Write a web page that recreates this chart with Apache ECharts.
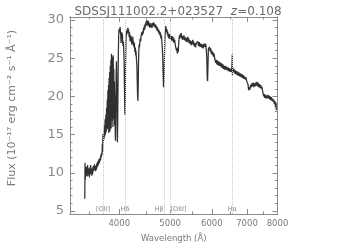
<!DOCTYPE html>
<html><head><meta charset="utf-8">
<script src="https://cdn.jsdelivr.net/npm/echarts@6/dist/echarts.min.js"></script>
<style>html,body{margin:0;padding:0;background:#fff}#c{width:347px;height:248px}</style>
</head><body><div id="c"></div>
<script>
// Rest-frame wavelength (Å)
const wavelength = [
3440,3443,3447,3452,3457,3462,3467,3472,3477,3483,3488,3494,3500,3506,3511,3517,3523,3529,3535,3541,3547,3553,3559,3565,3571,3577,3583,3589,3595,3601,3607,3613,3619,3625,3631,3637,3643,3649,3655,3661,3667,3673,3679,3685,3691,3697,3703,3709,3715,3720,3725,3730,3736,3742,3748,3754,3760,3766,3772,3778,3784,3790,3796,3801,3806,3811,3816,3821,3826,3831,3836,3841,3846,3851,3856,3861,3866,3871,3876,3881,3886,3891,3896,3901,3906,3911,3916,3921,3926,3931,3935,3940,3946,3952,3958,3963,3968,3973,3978,3984,3990,3996,4002,4008,4014,4020,4026,4032,4038,4044,4050,4056,4062,4068,4074,4080,4086,4092,4097,4102,4107,4112,4118,4124,4130,4136,4142,4148,4154,4160,4166,4172,4178,4184,4190,4196,4202,4208,4214,4220,4226,4232,4238,4244,4250,4256,4262,4268,4274,4280,4286,4292,4298,4304,4310,4316,4322,4328,4334,4340,4346,4352,4358,4364,4370,4378,4386,4394,4402,4410,4418,4426,4434,4442,4450,4458,4466,4474,4482,4490,4498,4506,4514,4522,4530,4538,4546,4554,4562,4570,4578,4586,4594,4602,4610,4620,4630,4640,4650,4660,4670,4680,4690,4700,4710,4720,4730,4740,4750,4760,4770,4780,4790,4800,4810,4820,4830,4840,4848,4856,4862,4868,4875,4882,4890,4898,4906,4914,4922,4930,4938,4946,4954,4962,4970,4978,4986,4994,5002,5010,5018,5026,5034,5042,5050,5060,5070,5080,5090,5100,5110,5120,5130,5140,5150,5160,5170,5180,5190,5200,5210,5220,5230,5240,5250,5260,5270,5280,5290,5300,5310,5320,5330,5340,5350,5360,5370,5380,5390,5400,5410,5420,5430,5440,5450,5460,5470,5480,5490,5500,5510,5520,5530,5540,5550,5560,5570,5580,5590,5600,5620,5640,5660,5680,5700,5720,5740,5760,5780,5800,5820,5840,5855,5868,5880,5890,5900,5910,5925,5940,5955,5970,5985,6000,6015,6030,6045,6060,6075,6090,6105,6120,6135,6150,6165,6180,6195,6210,6225,6240,6255,6270,6285,6300,6315,6330,6345,6360,6380,6400,6420,6440,6460,6480,6500,6520,6540,6555,6563,6568,6575,6590,6610,6630,6650,6670,6690,6710,6730,6750,6770,6790,6810,6830,6850,6870,6890,6910,6930,6950,6970,6990,7010,7030,7050,7070,7090,7110,7130,7150,7170,7190,7210,7230,7250,7270,7290,7310,7330,7350,7370,7390,7410,7430,7450,7470,7490,7510,7530,7550,7570,7590,7610,7630,7650,7670,7690,7710,7730,7750,7770,7790,7810,7830,7850,7870,7890,7910,7930,7945,7960
];
// Flux (1e-17 erg cm^-2 s^-1 Å^-1)
const flux = [
6.6,11.3,9.1,10.2,9.6,10.8,9.7,10.5,9.5,11.0,10.0,10.6,9.6,10.3,9.4,10.7,9.8,11.0,10.1,10.6,9.6,10.2,9.8,10.8,10.2,10.9,10.3,11.1,10.4,10.9,10.2,10.8,10.4,11.2,10.7,11.4,10.9,11.6,11.1,11.8,11.3,11.5,12.0,11.6,12.4,12.0,12.6,12.3,13.8,12.8,15.0,14.0,15.2,14.4,16.2,14.8,17.0,15.0,17.6,15.3,18.5,15.8,19.6,16.0,20.8,15.6,21.5,15.2,22.4,16.0,23.2,15.4,24.0,16.6,24.8,15.8,25.6,16.8,25.2,17.6,24.2,16.0,25.4,18.2,23.6,17.0,22.0,16.2,20.2,15.0,14.2,18.5,22.8,24.6,21.2,17.0,14.0,16.5,21.0,25.5,28.0,28.8,29.0,28.4,29.1,28.6,28.0,27.0,27.8,28.4,27.6,28.2,27.0,26.6,27.2,26.0,24.5,21.5,18.8,17.6,20.0,24.0,26.8,28.0,28.6,28.1,28.8,28.3,29.0,28.4,28.8,28.2,27.8,28.4,27.6,27.2,28.0,27.4,27.9,27.3,26.8,27.5,27.0,27.8,27.2,26.6,27.2,26.4,27.0,26.2,25.8,26.4,25.4,26.0,25.2,24.6,24.0,22.0,20.2,19.4,21.0,24.2,26.0,26.8,26.4,27.2,27.6,27.2,28.0,27.8,28.4,28.0,28.6,28.2,29.0,28.6,29.3,28.8,29.5,29.2,29.8,29.3,30.0,29.4,29.8,29.2,29.9,29.3,29.6,29.0,29.5,29.1,29.6,29.0,29.4,29.0,29.6,29.2,29.7,29.2,29.5,29.0,29.4,28.9,29.2,28.6,29.0,28.5,28.8,28.2,28.6,28.0,28.4,27.6,28.0,27.2,26.4,25.0,22.8,21.2,21.0,22.6,25.0,27.0,28.2,28.6,29.2,29.0,28.4,28.8,28.1,28.5,27.8,28.2,27.6,28.2,27.6,28.1,27.5,28.0,27.4,27.8,27.3,27.9,27.4,27.8,27.1,27.6,27.0,27.4,26.8,26.6,26.9,26.0,26.3,25.6,26.4,25.8,27.0,27.6,28.0,27.6,28.2,27.8,28.3,27.6,27.9,27.4,27.9,27.5,28.0,27.4,27.8,27.3,27.7,27.2,27.6,27.1,27.5,27.8,27.2,27.6,27.0,27.4,26.9,27.3,26.8,27.2,26.7,27.1,26.9,27.4,26.8,27.2,26.6,27.0,26.5,27.0,26.4,26.9,26.8,27.2,26.6,27.1,26.5,26.9,26.4,26.8,26.3,26.9,26.5,26.9,26.2,25.2,22.4,22.0,24.0,26.2,26.0,26.5,25.9,26.3,25.6,26.0,25.4,25.8,25.2,25.6,25.0,25.0,24.4,24.8,24.2,24.7,24.1,24.6,24.0,24.5,24.0,24.4,23.8,24.3,23.7,24.2,23.6,24.0,23.5,24.0,23.5,23.9,23.4,23.8,23.3,23.7,23.2,23.6,23.2,24.2,25.5,22.8,23.8,23.2,23.6,23.0,23.4,22.9,23.3,22.8,23.2,22.7,23.1,22.6,23.0,22.5,22.9,22.4,22.8,22.3,22.6,22.2,22.5,22.0,22.2,21.6,20.8,21.2,20.9,21.5,21.2,21.7,21.3,21.8,21.2,21.7,21.3,21.8,21.4,21.9,21.3,21.8,21.2,21.6,21.1,21.5,21.0,21.3,20.8,20.6,20.0,20.3,19.8,20.2,19.7,20.1,19.8,20.2,19.7,20.1,19.6,20.0,19.5,19.9,19.4,19.7,19.3,19.6,19.0,19.4,18.6,19.2,18.2
];
const lineNames = ['[OII]', 'Hδ', 'Hβ', '[OIII]', 'Hα'];
const lineWavelengths = [3727, 4102, 4861, 5007, 6563];
const lineLabelAlign = ['center', 'center', 'right', 'left', 'center'];
const xTickValues = [4000, 5000, 6000, 7000, 8000];
const xMinorTickValues = [3500, 4500, 5500, 6500, 7500];
const yTickValues = [5, 10, 15, 20, 25, 30];
const yMinorTickValues = [];
for (let v = 5; v <= 30; v++) if (v % 5 !== 0) yMinorTickValues.push(v);

const XMIN = 3224, XMAX = 8000, YMIN = 4.6, YMAX = 30.4;
const AX = '#8a8a8a';
const chart = echarts.init(document.getElementById('c'), null, {renderer: 'canvas'});

function xAxisDef(pos, ticks, len, labels) {
  return {
    type: 'log', logBase: 10, min: XMIN, max: XMAX, position: pos,
    axisLine: {show: true, onZero: false, lineStyle: {color: AX, width: 1}},
    axisTick: {show: true, inside: true, length: len, customValues: ticks, lineStyle: {color: AX}},
    axisLabel: labels ? {show: true, customValues: ticks, color: '#7a7a7a', fontSize: 8.5, fontFamily: 'DejaVu Sans', margin: 5,
      formatter: v => String(Math.round(v))} : {show: false},
    splitLine: {show: false}, minorTick: {show: false}
  };
}
function yAxisDef(pos, ticks, len, labels) {
  return {
    type: 'value', min: YMIN, max: YMAX, position: pos,
    axisLine: {show: true, onZero: false, lineStyle: {color: AX, width: 1}},
    axisTick: {show: true, inside: true, length: len, customValues: ticks, lineStyle: {color: AX}},
    axisLabel: labels ? {show: true, customValues: ticks, color: '#8a8a8a', fontSize: 13, fontFamily: 'DejaVu Sans', margin: 6} : {show: false},
    splitLine: {show: false}
  };
}

const xa = [
  xAxisDef('bottom', xTickValues, 5, true),
  xAxisDef('top', xTickValues, 5, false),
  xAxisDef('bottom', xMinorTickValues, 2.5, false),
  xAxisDef('top', xMinorTickValues, 2.5, false)
];
xa[0].name = 'Wavelength (Å)';
xa[0].nameLocation = 'middle';
xa[0].nameGap = 20;
xa[0].nameTextStyle = {color: '#7a7a7a', fontSize: 8.5, fontFamily: 'DejaVu Sans'};

const ya = [
  yAxisDef('left', yTickValues, 5, true),
  yAxisDef('right', yTickValues, 5, false),
  yAxisDef('left', yMinorTickValues, 2.5, false),
  yAxisDef('right', yMinorTickValues, 2.5, false)
];

const specData = wavelength.map((w, i) => [w, flux[i]]);
const labelY = 5.2;

chart.setOption({
  animation: false,
  backgroundColor: '#fff',
  title: {
    text: 'SDSSJ111002.2+023527  {i|z}=0.108',
    left: 173, top: 1, textAlign: 'center',
    textStyle: {color: '#6a6a6a', fontSize: 12, fontWeight: 'normal', fontFamily: 'DejaVu Sans',
      rich: {i: {fontStyle: 'italic', color: '#6a6a6a', fontSize: 12, fontFamily: 'DejaVu Sans'}}}
  },
  graphic: [{
    type: 'text', x: 12, y: 108, rotation: Math.PI / 2,
    style: {text: 'Flux (10⁻¹⁷ erg cm⁻² s⁻¹ Å⁻¹)', align: 'center', verticalAlign: 'middle',
      font: '11px "DejaVu Sans"', fill: '#7a7a7a'}
  }],
  grid: {left: 70, top: 17, width: 207.5, height: 203.5, containLabel: false},
  xAxis: xa,
  yAxis: ya,
  series: [
    {
      type: 'line', xAxisIndex: 0, yAxisIndex: 0, data: specData,
      showSymbol: false, symbol: 'none',
      lineStyle: {color: '#303030', width: 1.25},
      markLine: {
        silent: true, symbol: 'none', label: {show: false},
        lineStyle: {color: '#c8c8c8', type: [1, 1], width: 1},
        data: lineWavelengths.map(w => ({xAxis: w}))
      },
      z: 3
    },
    {
      type: 'scatter', xAxisIndex: 0, yAxisIndex: 0, symbolSize: 0,
      data: lineWavelengths.map((w, i) => ({
        value: [w, labelY],
        label: {show: true, position: 'inside', formatter: lineNames[i], align: lineLabelAlign[i],
          color: '#6a6a6a', fontSize: 6.5, fontFamily: 'DejaVu Sans'}
      })),
      silent: true
    }
  ]
});
</script></body></html>
